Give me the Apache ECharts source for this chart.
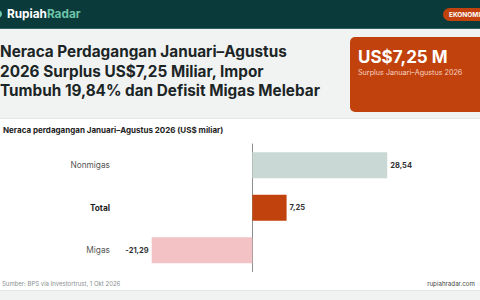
<!DOCTYPE html>
<html>
<head>
<meta charset="utf-8">
<script src="https://cdn.jsdelivr.net/npm/echarts@6/dist/echarts.min.js"></script>
<style>
  html, body { margin: 0; padding: 0; background: #fff; }
  #chart { width: 480px; height: 300px; }
</style>
</head>
<body>
<div id="chart"></div>
<script>
const categories = ['Nonmigas', 'Total', 'Migas'];
const values = [28.54, 7.25, -21.29];
const barColors = ['#c9d8d4', '#c2420d', '#f2c2c4'];

const titleLines = [
  'Neraca Perdagangan Januari–Agustus',
  '2026 Surplus US$7,25 Miliar, Impor',
  'Tumbuh 19,84% dan Defisit Migas Melebar'
];

const fmt = v => v.toFixed(2).replace('.', ',');
const font = 'Inter, "Noto Sans", sans-serif';

const chart = echarts.init(document.getElementById('chart'), null, { renderer: 'svg' });

const option = {
  animation: false,
  textStyle: { fontFamily: font },
  graphic: [
    // header bar
    { type: 'rect', shape: { x: 0, y: 0, width: 480, height: 28 }, style: { fill: '#0b3a3b' }, z: -10 },
    { type: 'rect', shape: { x: 0, y: 28, width: 480, height: 1 }, style: { fill: '#2f6263' }, z: -10 },
    { type: 'circle', shape: { cx: -2, cy: 14, r: 4 }, style: { fill: '#6fc9ad' } },
    {
      type: 'text', left: 7, top: 7.5,
      style: {
        text: '{a|Rupiah}{b|Radar}',
        rich: {
          a: { fill: '#ffffff', fontSize: 11.8, fontWeight: 'bold', fontFamily: font },
          b: { fill: '#6cc4a8', fontSize: 11.8, fontWeight: 'bold', fontFamily: font }
        }
      }
    },
    { type: 'rect', shape: { x: 443, y: 8, width: 50, height: 13, r: 6.5 }, style: { fill: '#c2420d' } },
    { type: 'text', left: 449, top: 11, style: { text: 'EKONOMI', fill: '#fff', fontSize: 6.5, fontWeight: 'bold', fontFamily: font } },
    // title band
    { type: 'rect', shape: { x: 0, y: 29, width: 480, height: 89 }, style: { fill: '#f1f3f3' }, z: -10 },
    { type: 'rect', shape: { x: 0, y: 118, width: 480, height: 1 }, style: { fill: '#e3e6e6' }, z: -10 },
    {
      type: 'text', left: 0, top: 42,
      style: {
        text: titleLines.join('\n'),
        fill: '#1c2526', fontSize: 15.3, fontWeight: 'bold', lineHeight: 19.5, fontFamily: font
      }
    },
    // highlight box
    { type: 'rect', shape: { x: 350, y: 37, width: 140, height: 75, r: 5 }, style: { fill: '#c2420d' } },
    { type: 'text', left: 358, top: 48, style: { text: 'US$7,25 M', fill: '#fff', fontSize: 17, fontWeight: 'bold', fontFamily: font } },
    { type: 'text', left: 358, top: 69, style: { text: 'Surplus Januari–Agustus 2026', fill: '#f6d3c3', fontSize: 7.2, fontFamily: font } },
    // chart subtitle
    { type: 'text', left: 3, top: 126, style: { text: 'Neraca perdagangan Januari–Agustus 2026 (US$ miliar)', fill: '#222', fontSize: 8, fontWeight: 'bold', fontFamily: font } },
    // footer
    { type: 'text', left: 2, top: 280, style: { text: 'Sumber: BPS via Investortrust, 1 Okt 2026', fill: '#8a8f90', fontSize: 6, fontFamily: font } },
    { type: 'text', right: 5, top: 280, style: { text: 'rupiahradar.com', fill: '#444', fontSize: 6.2, fontFamily: font } },
    { type: 'rect', shape: { x: 0, y: 290, width: 480, height: 10 }, style: { fill: '#f1f3f3' }, z: -10 },
    { type: 'rect', shape: { x: 0, y: 290, width: 480, height: 1 }, style: { fill: '#e3e6e6' }, z: -10 }
  ],
  grid: { left: 120, right: 15, top: 144, height: 127.5, containLabel: false },
  xAxis: {
    type: 'value', min: -28, max: 45,
    axisLabel: { show: false }, axisLine: { show: false }, axisTick: { show: false },
    splitLine: { show: false }
  },
  yAxis: {
    type: 'category', data: categories, inverse: true,
    axisLine: { show: true, onZero: true, lineStyle: { color: '#8c8f90', width: 1 } },
    axisTick: { show: false },
    axisLabel: {
      margin: 10,
      formatter: v => v === 'Total' ? '{b|' + v + '}' : '{n|' + v + '}',
      rich: {
        n: { color: '#555', fontSize: 8.3, fontFamily: font },
        b: { color: '#222', fontSize: 8.3, fontWeight: 'bold', fontFamily: font }
      }
    }
  },
  series: [{
    type: 'bar',
    barWidth: 26,
    data: values.map((v, i) => ({
      value: v,
      itemStyle: { color: barColors[i] },
      label: { position: v < 0 ? 'left' : 'right' }
    })),
    label: {
      show: true, distance: 3,
      formatter: p => fmt(p.value),
      color: '#333', fontSize: 7.5, fontWeight: 'bold', fontFamily: font
    }
  }]
};

chart.setOption(option);
</script>
</body>
</html>
